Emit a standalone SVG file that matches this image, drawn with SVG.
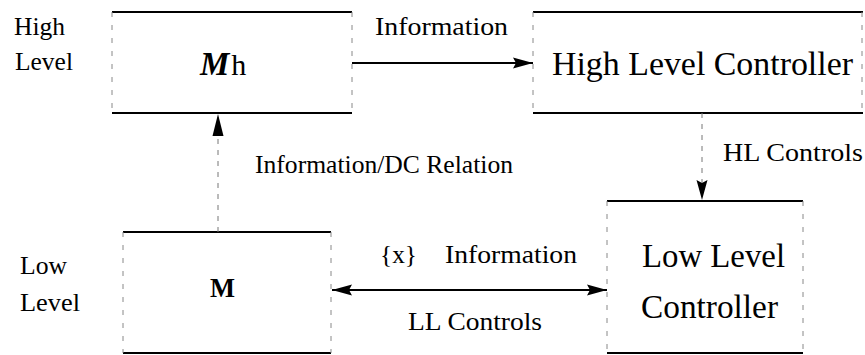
<svg xmlns="http://www.w3.org/2000/svg" width="865" height="355" viewBox="0 0 865 355">
  <style>
    .edge { stroke: #000; stroke-width: 2; fill: none; }
    .side { stroke: #888; stroke-width: 1; stroke-dasharray: 5 8; fill: none; }
    .wire { stroke: #000; stroke-width: 1.8; fill: none; }
    .dash { stroke: #777; stroke-width: 1; stroke-dasharray: 5 6; fill: none; }
    text { font-family: "Liberation Serif", "Times New Roman", serif; fill: #000; }
    .lab { font-size: 26px; }
    .big { font-size: 33px; }
  </style>
  <defs>
    <marker id="head" markerUnits="userSpaceOnUse" markerWidth="22" markerHeight="12" refX="20" refY="6" orient="auto-start-reverse">
      <path d="M0,0.5 L20,6 L0,11.5 L3,6 z" fill="#000"/>
    </marker>
    <marker id="head-long" markerUnits="userSpaceOnUse" markerWidth="24" markerHeight="12" refX="22" refY="6" orient="auto">
      <path d="M0,0.5 L22,6 L0,11.5 z" fill="#000"/>
    </marker>
  </defs>

  <!-- level captions -->
  <g id="caption-high">
    <text class="lab" x="14" y="35" textLength="51" lengthAdjust="spacingAndGlyphs">High</text>
    <text class="lab" x="15" y="70" textLength="58" lengthAdjust="spacingAndGlyphs">Level</text>
  </g>
  <g id="caption-low">
    <text class="lab" x="20" y="274" textLength="47" lengthAdjust="spacingAndGlyphs">Low</text>
    <text class="lab" x="20" y="311" textLength="60" lengthAdjust="spacingAndGlyphs">Level</text>
  </g>

  <!-- high level model -->
  <g id="node-mh">
    <line class="edge" x1="112" y1="12" x2="352" y2="12"/>
    <line class="edge" x1="112" y1="113" x2="352" y2="113"/>
    <line class="side" x1="112" y1="12" x2="112" y2="113"/>
    <line class="side" x1="352" y1="12" x2="352" y2="113"/>
    <text x="200" y="75"><tspan font-size="33" font-weight="bold" font-style="italic">M</tspan><tspan font-size="30" dx="2">h</tspan></text>
  </g>

  <!-- high level controller -->
  <g id="node-hlc">
    <line class="edge" x1="533" y1="12" x2="863" y2="12"/>
    <line class="edge" x1="533" y1="113" x2="863" y2="113"/>
    <line class="side" x1="533" y1="12" x2="533" y2="113"/>
    <line class="side" x1="862" y1="12" x2="862" y2="113"/>
    <text class="big" x="552" y="75" textLength="301" lengthAdjust="spacingAndGlyphs">High Level Controller</text>
  </g>

  <!-- low level model -->
  <g id="node-m">
    <line class="edge" x1="123" y1="232" x2="331" y2="232"/>
    <line class="edge" x1="123" y1="353" x2="331" y2="353"/>
    <line class="side" x1="123" y1="232" x2="123" y2="353"/>
    <line class="side" x1="331" y1="232" x2="331" y2="353"/>
    <text x="210" y="297" font-size="27" font-weight="bold" textLength="25" lengthAdjust="spacingAndGlyphs">M</text>
  </g>

  <!-- low level controller -->
  <g id="node-llc">
    <line class="edge" x1="607" y1="201" x2="803" y2="201"/>
    <line class="edge" x1="607" y1="353" x2="803" y2="353"/>
    <line class="side" x1="607" y1="201" x2="607" y2="353"/>
    <line class="side" x1="803" y1="201" x2="803" y2="353"/>
    <text class="big" x="642" y="267" textLength="143" lengthAdjust="spacingAndGlyphs">Low Level</text>
    <text class="big" x="641" y="318" textLength="137" lengthAdjust="spacingAndGlyphs">Controller</text>
  </g>

  <!-- connectors -->
  <g id="connectors">
    <line class="wire" x1="352" y1="63" x2="533" y2="63" marker-end="url(#head)"/>
    <line class="dash" x1="702" y1="113" x2="702" y2="200" marker-end="url(#head)"/>
    <line class="dash" x1="218" y1="232" x2="218" y2="114" marker-end="url(#head-long)"/>
    <line class="wire" x1="332" y1="290" x2="607" y2="290" marker-start="url(#head)" marker-end="url(#head)"/>

    <text class="lab" x="375" y="35" textLength="133" lengthAdjust="spacingAndGlyphs">Information</text>
    <text class="lab" x="723" y="161" textLength="140" lengthAdjust="spacingAndGlyphs">HL Controls</text>
    <text class="lab" x="255" y="173" textLength="258" lengthAdjust="spacingAndGlyphs">Information/DC Relation</text>
    <text class="lab" x="380" y="263" textLength="37" lengthAdjust="spacingAndGlyphs">{x}</text>
    <text class="lab" x="445" y="263" textLength="132" lengthAdjust="spacingAndGlyphs">Information</text>
    <text class="lab" x="408" y="330" textLength="134" lengthAdjust="spacingAndGlyphs">LL Controls</text>
  </g>
</svg>
